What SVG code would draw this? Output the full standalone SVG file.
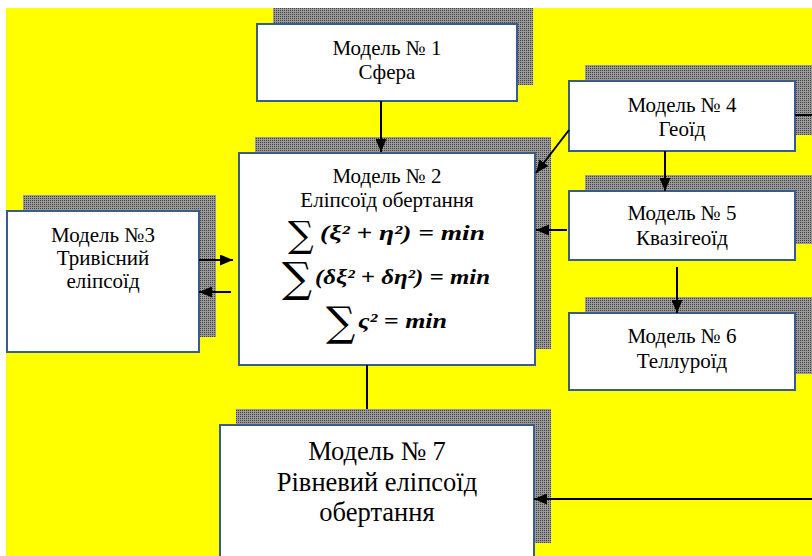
<svg xmlns="http://www.w3.org/2000/svg" width="812" height="556" viewBox="0 0 812 556">
<style>
.sh{fill:url(#dots)}
.bx{fill:#ffffff;stroke:#385d8a;stroke-width:2}
.t{font-family:'Liberation Serif','Times New Roman',serif;font-size:21px;fill:#000;text-anchor:middle}
.tb{font-family:'Liberation Serif','Times New Roman',serif;font-size:26.5px;fill:#000;text-anchor:middle}
.f{font-family:'Liberation Serif','Times New Roman',serif;font-size:22px;font-weight:bold;font-style:italic;fill:#000}
.sg{font-family:'DejaVu Serif','Liberation Serif',serif;fill:#000}
.c{stroke:#000;stroke-width:2;fill:none}
.ca{stroke:#000;stroke-width:2;fill:none;marker-end:url(#ah)}
</style>
<defs>
<pattern id="dots" width="2" height="2" patternUnits="userSpaceOnUse">
<rect width="2" height="2" fill="#9a9a9a"/>
<rect width="1" height="1" fill="#404040"/>
</pattern>
<marker id="ah" markerUnits="userSpaceOnUse" markerWidth="13" markerHeight="11" refX="13" refY="5.5" orient="auto">
<path d="M0,0 L13,5.5 L0,11 z" fill="#000"/>
</marker>
</defs>
<rect x="6" y="8" width="806" height="548" fill="#ffff00"/>

<g id="model1">
<rect class="sh" x="273" y="8" width="260" height="77"/>
<rect class="bx" x="257" y="24" width="260" height="77"/>
<text class="t" x="387" y="55">Модель № 1</text>
<text class="t" x="387" y="79">Сфера</text>
</g>

<g id="model2">
<rect class="sh" x="255" y="137" width="296" height="212"/>
<rect class="bx" x="239" y="153" width="296" height="212"/>
<text class="t" x="387" y="183">Модель № 2</text>
<text class="t" x="387" y="207">Еліпсоїд обертання</text>
<text class="sg" x="288" y="247" font-size="36">∑</text>
<text class="f" x="320" y="240" textLength="165" lengthAdjust="spacingAndGlyphs">(ξ² + η²) = min</text>
<text class="sg" x="282" y="292" font-size="42">∑</text>
<text class="f" x="315" y="284" textLength="175" lengthAdjust="spacingAndGlyphs">(δξ² + δη²) = min</text>
<text class="sg" x="326" y="336" font-size="41">∑</text>
<text class="f" x="358" y="328" textLength="89" lengthAdjust="spacingAndGlyphs">ς² = min</text>
</g>

<g id="model3">
<rect class="sh" x="23" y="195" width="193" height="142"/>
<rect class="bx" x="7" y="211" width="192" height="141"/>
<text class="t" x="103" y="242">Модель №3</text>
<text class="t" x="103" y="265">Тривісний</text>
<text class="t" x="103" y="288">еліпсоїд</text>
</g>

<g id="model4">
<rect class="sh" x="585" y="65" width="227" height="70"/>
<rect class="bx" x="569" y="81" width="226" height="70"/>
<text class="t" x="682" y="112">Модель № 4</text>
<text class="t" x="682" y="136">Геоїд</text>
</g>

<g id="model5">
<rect class="sh" x="585" y="175" width="227" height="69"/>
<rect class="bx" x="569" y="191" width="226" height="69"/>
<text class="t" x="682" y="220">Модель № 5</text>
<text class="t" x="682" y="245">Квазігеоїд</text>
</g>

<g id="model6">
<rect class="sh" x="585" y="297" width="227" height="77"/>
<rect class="bx" x="569" y="313" width="226" height="77"/>
<text class="t" x="682" y="343">Модель № 6</text>
<text class="t" x="682" y="368">Теллуроїд</text>
</g>

<g id="model7">
<rect class="sh" x="236" y="409" width="315" height="134"/>
<rect class="bx" x="220" y="425" width="314" height="145"/>
<text class="tb" x="377" y="460">Модель № 7</text>
<text class="tb" x="377" y="491">Рівневий еліпсоїд</text>
<text class="tb" x="377" y="521">обертання</text>
</g>

<g id="connectors">
<line class="ca" x1="381" y1="101" x2="381" y2="152"/>
<line class="ca" x1="569" y1="130" x2="536" y2="173"/>
<line class="ca" x1="567" y1="230" x2="536" y2="230"/>
<line class="ca" x1="665" y1="151" x2="665" y2="191"/>
<line class="ca" x1="677" y1="267" x2="677" y2="313"/>
<line class="ca" x1="199" y1="260" x2="233" y2="260"/>
<line class="ca" x1="231" y1="292" x2="199" y2="292"/>
<line class="c" x1="795" y1="115" x2="812" y2="115"/>
<line class="c" x1="367" y1="365" x2="367" y2="409"/>
<line class="ca" x1="812" y1="499" x2="534" y2="499"/>
</g>
</svg>
